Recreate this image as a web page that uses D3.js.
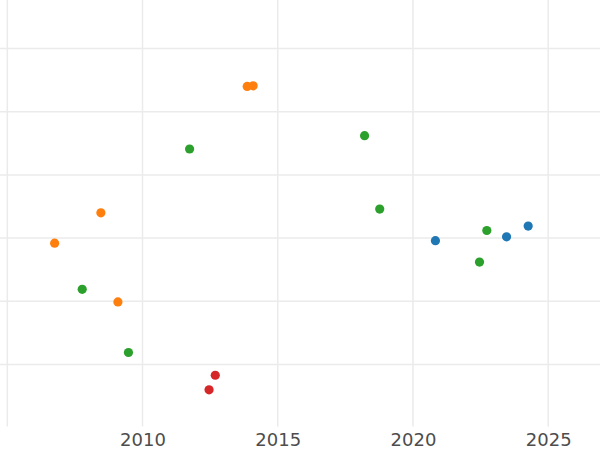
<!DOCTYPE html>
<html>
<head>
<meta charset="utf-8">
<script src="https://cdn.jsdelivr.net/npm/d3@7"></script>
<style>
  html, body { margin: 0; padding: 0; background: #ffffff; }
  svg { display: block; }
</style>
</head>
<body>
<svg id="chart" width="600" height="450"></svg>
<script>
// ---- data ----
const seriesNames = ["blue", "orange", "green", "red"];
const seriesColors = ["#1f77b4", "#ff7f0e", "#2ca02c", "#d62728"];

const blueYears   = [2020.83, 2023.46, 2024.26];
const blueValues  = [2.96, 3.02, 3.19];

const orangeYears  = [2006.75, 2008.46, 2009.09, 2013.87, 2014.09];
const orangeValues = [2.92, 3.40, 1.99, 5.40, 5.41];

const greenYears  = [2007.77, 2009.48, 2011.74, 2018.21, 2018.77, 2022.46, 2022.73];
const greenValues = [2.19, 1.19, 4.41, 4.62, 3.46, 2.62, 3.12];

const redYears  = [2012.46, 2012.69];
const redValues = [0.60, 0.83];

const xGridYears  = [2005, 2010, 2015, 2020, 2025];
const xTickLabels = [2010, 2015, 2020, 2025];
const yGridValues = [1, 2, 3, 4, 5, 6, 7];

// ---- build ----
const allYears  = [blueYears, orangeYears, greenYears, redYears];
const allValues = [blueValues, orangeValues, greenValues, redValues];
const points = [];
seriesNames.forEach((name, i) => {
  allYears[i].forEach((yr, j) => {
    points.push({ series: name, color: seriesColors[i], year: yr, value: allValues[i][j] });
  });
});

const svg = d3.select("#chart");
const W = 600, panelBottom = 426.5;

const x = d3.scaleLinear().domain([2005, 2025]).range([7.3, 548.2]);
const y = d3.scaleLinear().domain([0, 6]).range([427.7, 48.5]);

const grid = svg.append("g").attr("stroke", "#ebebeb").attr("stroke-width", 1.5).attr("fill", "none");

grid.selectAll("line.h").data(yGridValues).join("line")
  .attr("class", "h")
  .attr("x1", 0).attr("x2", W)
  .attr("y1", d => y(d)).attr("y2", d => y(d));

grid.selectAll("line.v").data(xGridYears).join("line")
  .attr("class", "v")
  .attr("x1", d => x(d)).attr("x2", d => x(d))
  .attr("y1", 0).attr("y2", panelBottom);

// x axis labels
const axis = d3.axisBottom(x)
  .tickValues(xTickLabels)
  .tickFormat(d3.format("d"))
  .tickSize(0)
  .tickPadding(0);

const axG = svg.append("g")
  .attr("transform", "translate(0,433)")
  .call(axis);
axG.select(".domain").remove();
axG.selectAll("text")
  .attr("dy", "0.71em")
  .attr("y", 0)
  .style("font-family", "'DejaVu Sans', sans-serif")
  .style("font-size", "18px")
  .attr("fill", "#4d4d4d");

// points
svg.append("g").selectAll("circle").data(points).join("circle")
  .attr("cx", d => x(d.year))
  .attr("cy", d => y(d.value))
  .attr("r", 4.6)
  .attr("fill", d => d.color);
</script>
</body>
</html>
